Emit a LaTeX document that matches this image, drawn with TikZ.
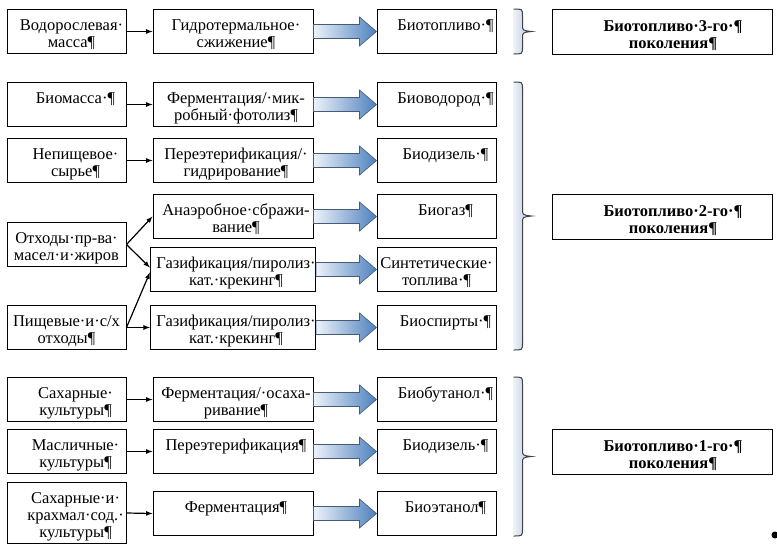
\documentclass[tikz,border=0pt]{standalone}
\usepackage{fontspec}
\setmainfont{Liberation Serif}
\usetikzlibrary{calc}
\definecolor{arrowlight}{RGB}{236,242,250}
\definecolor{arrowdark}{RGB}{79,129,189}
\definecolor{arrowline}{RGB}{70,90,120}
\definecolor{bracelight}{RGB}{238,242,249}
\definecolor{bracedark}{RGB}{176,194,222}
\newcommand{\fnt}{\fontsize{16.5}{17}\selectfont}
\newcommand{\boxtext}[2][18pt]{\begin{tabular}[t]{@{\hspace{#1}}c@{}}#2\end{tabular}}
\tikzstyle{box} = [draw, line width=1pt, inner sep=0pt, anchor=north, text height=21pt, text depth=23pt, font=\fnt]
\tikzstyle{src} = [box, minimum width=119pt]
\tikzstyle{proc} = [box, minimum width=160pt]
\tikzstyle{fuel} = [box, minimum width=119pt]
\tikzstyle{gen} = [box, minimum width=220pt, font=\fnt\bfseries]
\tikzstyle{fat} = [-, draw=arrowline, line width=0.6pt, left color=arrowlight, right color=arrowdark]
\tikzstyle{brc} = [-, draw=black!75, line width=1pt, left color=bracelight, right color=bracedark]
\newcommand{\fatarrow}[2]{\path[fat] let \p1=(#1.east), \p2=(#2.west) in
  (\x1,\y1+7) -- (\x2-17,\y1+7) -- (\x2-17,\y1+14.5) -- (\x2,\y1) -- (\x2-17,\y1-14.5) -- (\x2-17,\y1-7) -- (\x1,\y1-7) -- cycle;}
\newcommand{\genbrace}[2]{\path[brc] let \p1=($(#1.north east)+(17,0)$), \p2=($(#2.south east)+(17,0)$), \p3=($(\p1)!0.5!(\p2)$) in
  (\x1,\y1) .. controls (\x1+9,\y1) .. (\x1+9,\y1-7) -- (\x1+9,\y3+7) .. controls (\x1+9,\y3+1) .. (\x1+18,\y3)
  .. controls (\x1+9,\y3-1) .. (\x1+9,\y3-7) -- (\x1+9,\y2+7) .. controls (\x1+9,\y2) .. (\x1,\y2);}

\begin{document}
\begin{tikzpicture}[x=1pt,y=1pt,->,>=latex,line width=1.2pt]
  \useasboundingbox (0,0) rectangle (777,-544);

  \node[src] (S_1) at (66.5,-9) {\boxtext[10pt]{Водорослевая·\\масса¶}};
  \node[proc] (P_1) at (233,-9) {\boxtext[6pt]{Гидротермальное·\\сжижение¶}};
  \node[fuel] (F_1) at (436.5,-9) {\boxtext{Биотопливо·¶}};
  \node[gen, text height=22pt] (G_3) at (662,-9) {\boxtext[22pt]{Биотопливо·3-го·¶\\поколения¶}};

  \node[src] (S_2) at (66.5,-82) {\boxtext{Биомасса·¶}};
  \node[proc] (P_2) at (233,-82) {\boxtext[6pt]{Ферментация/·мик-\\робный·фотолиз¶}};
  \node[fuel] (F_2) at (436.5,-82) {\boxtext{Биоводород·¶}};

  \node[src] (S_3) at (66.5,-138) {\boxtext{Непищевое·\\сырье¶}};
  \node[proc] (P_3) at (233,-138) {\boxtext[6pt]{Переэтерификация/·\\гидрирование¶}};
  \node[fuel] (F_3) at (436.5,-138) {\boxtext{Биодизель·¶}};

  \node[src] (S_4) at (66.5,-222) {\boxtext[0pt]{Отходы·пр-ва·\\масел·и·жиров}};
  \node[proc] (P_4) at (233,-194) {\boxtext[6pt]{Анаэробное·сбражи-\\вание¶}};
  \node[fuel] (F_4) at (436.5,-194) {\boxtext{Биогаз¶}};
  \node[gen, text height=22pt] (G_2) at (662,-194) {\boxtext[22pt]{Биотопливо·2-го·¶\\поколения¶}};

  \node[proc] (P_5) at (233,-247) {\boxtext[6pt]{Газификация/пиролиз·\\кат.·крекинг¶}};
  \node[fuel] (F_5) at (436.5,-247) {\boxtext[0pt]{Синтетические·\\топлива·¶}};

  \node[src] (S_6) at (66.5,-305) {\boxtext[0pt]{Пищевые·и·с/х\\отходы¶}};
  \node[proc] (P_6) at (233,-305) {\boxtext[6pt]{Газификация/пиролиз·\\кат.·крекинг¶}};
  \node[fuel] (F_6) at (436.5,-305) {\boxtext{Биоспирты·¶}};

  \node[src] (S_7) at (66.5,-377) {\boxtext{Сахарные·\\культуры¶}};
  \node[proc] (P_7) at (233,-377) {\boxtext[6pt]{Ферментация/·осаха-\\ривание¶}};
  \node[fuel] (F_7) at (436.5,-377) {\boxtext{Биобутанол·¶}};

  \node[src] (S_8) at (66.5,-429) {\boxtext{Масличные·\\культуры¶}};
  \node[proc] (P_8) at (233,-429) {\boxtext[6pt]{Переэтерификация¶}};
  \node[fuel] (F_8) at (436.5,-429) {\boxtext{Биодизель·¶}};
  \node[gen, text height=22pt] (G_1) at (662,-429) {\boxtext[22pt]{Биотопливо·1-го·¶\\поколения¶}};

  \node[src, text depth=40pt] (S_9) at (66.5,-482) {\boxtext{Сахарные·и·\\крахмал·сод.·\\культуры¶}};
  \node[proc] (P_9) at (233,-491) {\boxtext[6pt]{Ферментация¶}};
  \node[fuel] (F_9) at (436.5,-491) {\boxtext{Биоэтанол¶}};

  \path (S_1.east) edge (P_1.west);
  \path (S_2.east) edge (P_2.west);
  \path (S_3.east) edge (P_3.west);
  \path (S_4.east) edge (P_4.west);
  \path (S_4.east) edge ([yshift=2pt]P_5.west);
  \path (S_6.east) edge ([yshift=-3pt]P_5.west);
  \path (S_6.east) edge (P_6.west);
  \path (S_7.east) edge (P_7.west);
  \path (S_8.east) edge (P_8.west);
  \path (S_9.east) edge (P_9.west);

  \fatarrow{P_1}{F_1}
  \fatarrow{P_2}{F_2}
  \fatarrow{P_3}{F_3}
  \fatarrow{P_4}{F_4}
  \fatarrow{P_5}{F_5}
  \fatarrow{P_6}{F_6}
  \fatarrow{P_7}{F_7}
  \fatarrow{P_8}{F_8}
  \fatarrow{P_9}{F_9}

  \genbrace{F_1}{F_1}
  \genbrace{F_2}{F_6}
  \genbrace{F_7}{F_9}

  \fill[-] (775,-535) circle (3.5);
\end{tikzpicture}
\end{document}
